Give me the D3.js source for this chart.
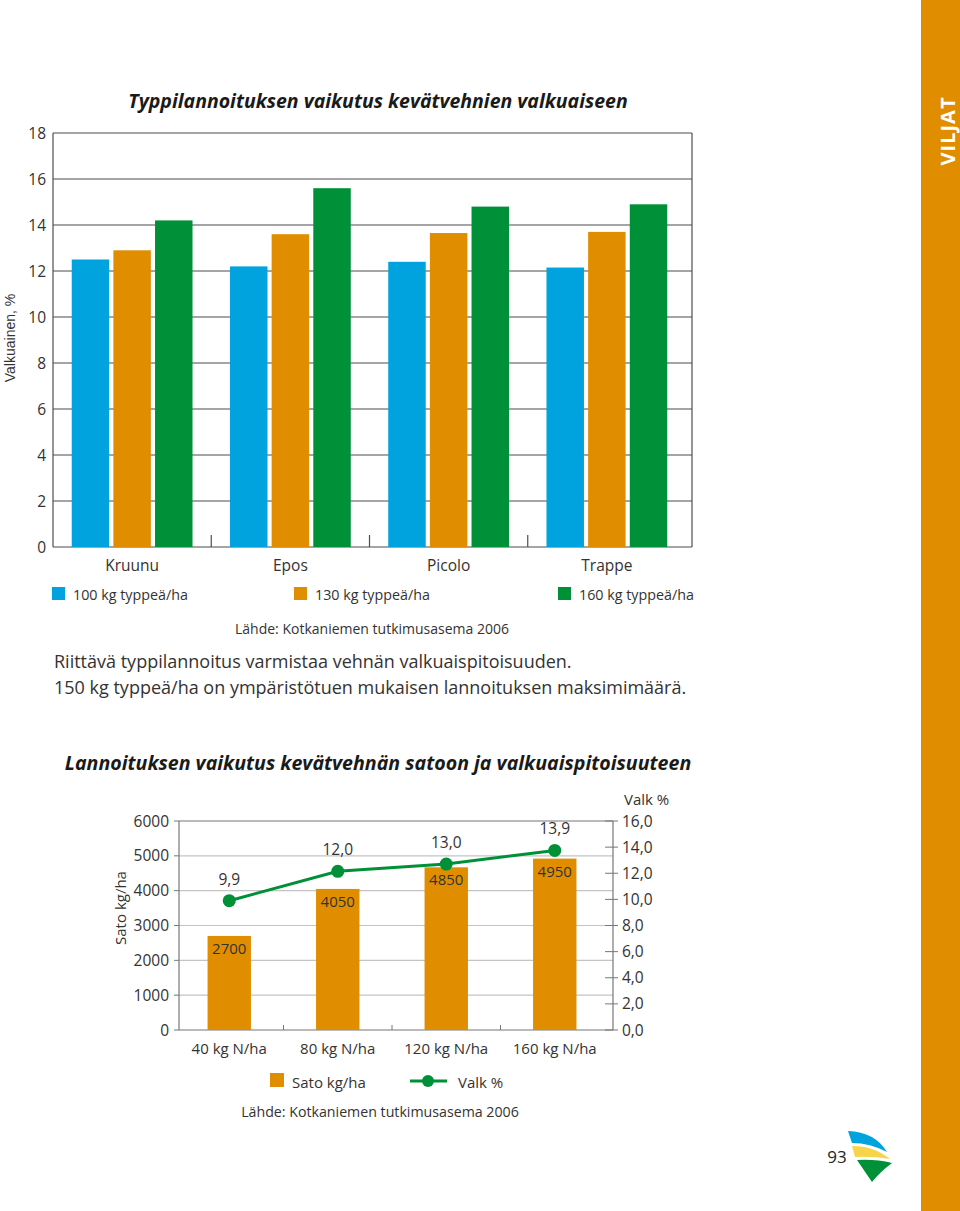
<!DOCTYPE html>
<html><head><meta charset="utf-8">
<script src="https://cdn.jsdelivr.net/npm/d3@7"></script>
<style>
body{margin:0;background:#fff;}
svg{display:block;font-family:"Open Sans",sans-serif;}
</style></head>
<body>
<svg id="c" width="960" height="1211"></svg>
<script>
// ---------- DATA ----------
const groups = ["Kruunu", "Epos", "Picolo", "Trappe"];
const seriesNames = ["100 kg typpeä/ha", "130 kg typpeä/ha", "160 kg typpeä/ha"];
const s100 = [12.5, 12.2, 12.4, 12.15];
const s130 = [12.9, 13.6, 13.65, 13.7];
const s160 = [14.2, 15.6, 14.8, 14.9];
const topTicks = [0, 2, 4, 6, 8, 10, 12, 14, 16, 18];

const rates = ["40 kg N/ha", "80 kg N/ha", "120 kg N/ha", "160 kg N/ha"];
const yieldVals = [2700, 4050, 4670, 4920];
const yieldLabels = ["2700", "4050", "4850", "4950"];
const proteinVals = [9.9, 12.15, 12.7, 13.75];
const proteinLabels = ["9,9", "12,0", "13,0", "13,9"];
const yieldTicks = [0, 1000, 2000, 3000, 4000, 5000, 6000];
const proteinTicks = [0, 2, 4, 6, 8, 10, 12, 14, 16];

// ---------- STYLE ----------
const BLUE = "#00a3dd", ORANGE = "#e08e00", GREEN = "#009038";
const TXT = "#333";
const svg = d3.select("#c");
svg.append("rect").attr("width", 960).attr("height", 1211).attr("fill", "#fff");

// side bar
svg.append("rect").attr("x", 921).attr("y", 0).attr("width", 39).attr("height", 1211).attr("fill", ORANGE);
svg.append("text").attr("transform", "translate(955,131) rotate(-90)")
  .attr("text-anchor", "middle").attr("fill", "#fff").attr("font-size", 20).attr("font-weight", "bold")
  .attr("letter-spacing", 1).text("VILJAT");

// ---------- TOP CHART ----------
const T = {l: 53, r: 692, t: 133, b: 547};
svg.append("text").attr("x", 378).attr("y", 108).attr("text-anchor", "middle")
  .attr("font-size", 19.5).attr("font-weight", "bold").attr("font-style", "italic").attr("fill", "#1a1a1a")
  .text("Typpilannoituksen vaikutus kevätvehnien valkuaiseen");

const yT = d3.scaleLinear().domain([0, 18]).range([T.b, T.t]);
const xG = d3.scaleBand().domain(groups).range([T.l, 686]).paddingInner(0).paddingOuter(0);
const xS = d3.scaleBand().domain([0, 1, 2]).range([0, xG.bandwidth()]).paddingInner(0.1).paddingOuter(0.45);

const topG = svg.append("g");
topG.selectAll("line.grid").data(topTicks).join("line")
  .attr("x1", T.l).attr("x2", T.r).attr("y1", d => yT(d)).attr("y2", d => yT(d))
  .attr("stroke", "#4d4d4d").attr("stroke-width", 1.2);
topG.append("line").attr("x1", T.l).attr("x2", T.l).attr("y1", T.t).attr("y2", T.b).attr("stroke", "#4d4d4d").attr("stroke-width", 1.2);
topG.append("line").attr("x1", T.r).attr("x2", T.r).attr("y1", T.t).attr("y2", T.b).attr("stroke", "#4d4d4d").attr("stroke-width", 1.2);
topG.selectAll("text.tick").data(topTicks).join("text")
  .attr("x", 46).attr("y", d => yT(d) + 5.5).attr("text-anchor", "end")
  .attr("font-size", 15.5).attr("fill", TXT).text(d => d);

const series = [s100, s130, s160];
const colors = [BLUE, ORANGE, GREEN];
series.forEach((vals, si) => {
  topG.selectAll("rect.s" + si).data(groups).join("rect")
    .attr("x", g => xG(g) + xS(si)).attr("width", xS.bandwidth())
    .attr("y", (g, i) => yT(vals[i])).attr("height", (g, i) => yT(0) - yT(vals[i]))
    .attr("fill", colors[si]);
});
// separators
topG.selectAll("line.sep").data(groups.slice(1)).join("line")
  .attr("x1", g => xG(g)).attr("x2", g => xG(g)).attr("y1", T.b - 12).attr("y2", T.b)
  .attr("stroke", "#4d4d4d").attr("stroke-width", 1.2);
topG.selectAll("text.cat").data(groups).join("text")
  .attr("x", g => xG(g) + xG.bandwidth() / 2).attr("y", 571).attr("text-anchor", "middle")
  .attr("font-size", 15.5).attr("fill", TXT).text(g => g);

// y-axis label
svg.append("text").attr("transform", "translate(15,338) rotate(-90)").attr("text-anchor", "middle")
  .attr("font-family", "'Liberation Sans Narrow', sans-serif")
  .attr("font-size", 14).attr("fill", TXT).text("Valkuainen, %");

// legend
const legX = [52, 294, 558];
seriesNames.forEach((n, i) => {
  svg.append("rect").attr("x", legX[i]).attr("y", 587).attr("width", 13).attr("height", 13).attr("fill", colors[i]);
  svg.append("text").attr("x", legX[i] + 21).attr("y", 600).attr("font-size", 14.3).attr("fill", TXT).text(n);
});
svg.append("text").attr("x", 372).attr("y", 634).attr("text-anchor", "middle").attr("font-size", 14).attr("fill", TXT)
  .text("Lähde: Kotkaniemen tutkimusasema 2006");
svg.append("text").attr("x", 54).attr("y", 668).attr("font-size", 18).attr("fill", TXT)
  .text("Riittävä typpilannoitus varmistaa vehnän valkuaispitoisuuden.");
svg.append("text").attr("x", 54).attr("y", 694).attr("font-size", 18).attr("fill", TXT)
  .text("150 kg typpeä/ha on ympäristötuen mukaisen lannoituksen maksimimäärä.");

// ---------- BOTTOM CHART ----------
svg.append("text").attr("x", 378).attr("y", 770).attr("text-anchor", "middle")
  .attr("font-size", 19.6).attr("font-weight", "bold").attr("font-style", "italic").attr("fill", "#1a1a1a")
  .text("Lannoituksen vaikutus kevätvehnän satoon ja valkuaispitoisuuteen");

const B = {l: 179, r: 613, t: 821, b: 1030};
const y1 = d3.scaleLinear().domain([0, 6000]).range([B.b, B.t]);
const y2 = d3.scaleLinear().domain([0, 16]).range([B.b, B.t]);
const xB = d3.scaleBand().domain(rates).range([175, 609]);
const bg = svg.append("g");
bg.selectAll("line.grid").data(yieldTicks.filter(d => d > 0 && d < 6000)).join("line")
  .attr("x1", B.l).attr("x2", B.r).attr("y1", d => y1(d)).attr("y2", d => y1(d))
  .attr("stroke", "#c4c4c4").attr("stroke-width", 1.2);
bg.append("line").attr("x1", B.l).attr("x2", B.r).attr("y1", B.t).attr("y2", B.t).attr("stroke", "#777").attr("stroke-width", 1.2);
bg.append("line").attr("x1", B.l).attr("x2", B.r).attr("y1", B.b).attr("y2", B.b).attr("stroke", "#777").attr("stroke-width", 1.2);
bg.append("line").attr("x1", B.l).attr("x2", B.l).attr("y1", B.t).attr("y2", B.b).attr("stroke", "#777").attr("stroke-width", 1.2);
bg.append("line").attr("x1", B.r).attr("x2", B.r).attr("y1", B.t).attr("y2", B.b).attr("stroke", "#777").attr("stroke-width", 1.2);
// left ticks
bg.selectAll("line.lt").data(yieldTicks).join("line")
  .attr("x1", B.l - 5).attr("x2", B.l).attr("y1", d => y1(d)).attr("y2", d => y1(d)).attr("stroke", "#777");
bg.selectAll("text.lt").data(yieldTicks).join("text")
  .attr("x", 169).attr("y", d => y1(d) + 5.5).attr("text-anchor", "end").attr("font-size", 15.5).attr("fill", TXT).text(d => d);
// right ticks
bg.selectAll("line.rt").data(proteinTicks).join("line")
  .attr("x1", B.r - 8).attr("x2", B.r + 5).attr("y1", d => y2(d)).attr("y2", d => y2(d)).attr("stroke", "#777");
bg.selectAll("text.rt").data(proteinTicks).join("text")
  .attr("x", 622).attr("y", d => y2(d) + 5.5).attr("font-size", 15.5).attr("fill", TXT).text(d => d.toFixed(1).replace(".", ","));
svg.append("text").attr("x", 624).attr("y", 805).attr("font-size", 15).attr("fill", TXT).text("Valk %");
svg.append("text").attr("transform", "translate(126,908) rotate(-90)").attr("text-anchor", "middle")
  .attr("font-size", 15).attr("fill", TXT).text("Sato kg/ha");
// bottom separators
bg.selectAll("line.sep").data(rates.slice(1)).join("line")
  .attr("x1", d => xB(d)).attr("x2", d => xB(d)).attr("y1", B.b - 5).attr("y2", B.b).attr("stroke", "#777");
// bars
const bw = xB.bandwidth() * 0.4;
bg.selectAll("rect.bar").data(rates).join("rect")
  .attr("x", (d) => xB(d) + xB.bandwidth() / 2 - bw / 2).attr("width", bw)
  .attr("y", (d, i) => y1(yieldVals[i])).attr("height", (d, i) => B.b - y1(yieldVals[i]))
  .attr("fill", ORANGE);
bg.selectAll("text.bl").data(rates).join("text")
  .attr("x", d => xB(d) + xB.bandwidth() / 2).attr("y", (d, i) => y1(yieldVals[i]) + 18)
  .attr("text-anchor", "middle").attr("font-size", 15).attr("fill", TXT).text((d, i) => yieldLabels[i]);
// line
const line = d3.line().x((d, i) => xB(rates[i]) + xB.bandwidth() / 2).y(d => y2(d));
bg.append("path").datum(proteinVals).attr("d", line).attr("fill", "none").attr("stroke", GREEN).attr("stroke-width", 3);
bg.selectAll("circle.pt").data(proteinVals).join("circle")
  .attr("cx", (d, i) => xB(rates[i]) + xB.bandwidth() / 2).attr("cy", d => y2(d)).attr("r", 6.5).attr("fill", GREEN);
bg.selectAll("text.pl").data(proteinVals).join("text")
  .attr("x", (d, i) => xB(rates[i]) + xB.bandwidth() / 2).attr("y", d => y2(d) - 16)
  .attr("text-anchor", "middle").attr("font-size", 15.5).attr("fill", TXT).text((d, i) => proteinLabels[i]);
// x labels
bg.selectAll("text.xl").data(rates).join("text")
  .attr("x", d => xB(d) + xB.bandwidth() / 2).attr("y", 1054).attr("text-anchor", "middle")
  .attr("font-size", 15).attr("fill", TXT).text(d => d);
// legend
svg.append("rect").attr("x", 270).attr("y", 1073).attr("width", 14).attr("height", 14).attr("fill", ORANGE);
svg.append("text").attr("x", 292).attr("y", 1088).attr("font-size", 15).attr("fill", TXT).text("Sato kg/ha");
svg.append("line").attr("x1", 410).attr("x2", 447).attr("y1", 1081).attr("y2", 1081).attr("stroke", GREEN).attr("stroke-width", 3);
svg.append("circle").attr("cx", 428).attr("cy", 1081).attr("r", 6).attr("fill", GREEN);
svg.append("text").attr("x", 458).attr("y", 1088).attr("font-size", 15).attr("fill", TXT).text("Valk %");
svg.append("text").attr("x", 380).attr("y", 1117).attr("text-anchor", "middle").attr("font-size", 14.2).attr("fill", TXT)
  .text("Lähde: Kotkaniemen tutkimusasema 2006");

// ---------- PAGE NUMBER & LOGO ----------
svg.append("text").attr("x", 837).attr("y", 1163).attr("text-anchor", "middle").attr("font-size", 17).attr("fill", "#222").text("93");
const logo = svg.append("g");
logo.append("path").attr("d", "M848,1131 Q875,1132 887,1152 Q870,1143 852,1143 Z").attr("fill", BLUE);
logo.append("path").attr("d", "M852,1146 Q874,1146 890,1159 Q872,1156 855,1157 Z").attr("fill", "#f6d54a");
logo.append("path").attr("d", "M857,1160 Q876,1159 892,1163 Q880,1172 872,1182 Z").attr("fill", GREEN);
</script>
</body></html>
